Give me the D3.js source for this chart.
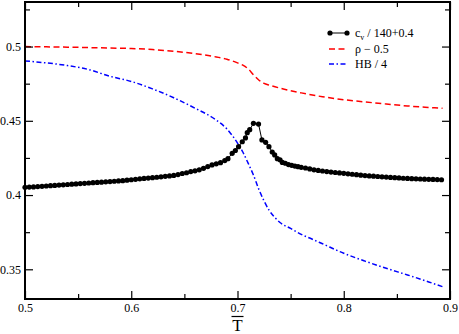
<!DOCTYPE html>
<html><head><meta charset="utf-8">
<script src="https://cdn.jsdelivr.net/npm/d3@7"></script>
<style>body{margin:0;background:#fff}svg{display:block}svg text{font-family:"Times New Roman","Liberation Serif",Times,"DejaVu Serif",serif}</style>
</head><body><svg id="c" width="459" height="334"></svg>
<script>
const cvT = [0.500,0.504,0.508,0.512,0.516,0.520,0.524,0.528,0.532,0.536,0.540,0.544,0.548,0.552,0.556,0.560,0.564,0.568,0.572,0.576,0.580,0.584,0.588,0.592,0.596,0.600,0.604,0.608,0.612,0.616,0.620,0.624,0.628,0.632,0.636,0.640,0.644,0.648,0.652,0.656,0.660,0.664,0.668,0.672,0.676,0.680,0.684,0.688,0.691,0.695,0.698,0.701,0.7045,0.7075,0.7092,0.7115,0.715,0.7198,0.723,0.7265,0.7296,0.7327,0.735,0.7375,0.740,0.7422,0.745,0.748,0.751,0.754,0.757,0.760,0.764,0.768,0.772,0.776,0.780,0.784,0.788,0.792,0.796,0.800,0.804,0.808,0.812,0.816,0.820,0.824,0.828,0.832,0.836,0.840,0.844,0.848,0.852,0.856,0.860,0.864,0.868,0.872,0.876,0.880,0.884,0.888,0.892];
const cvV = [0.4052,0.4054,0.4055,0.4057,0.4059,0.4061,0.4063,0.4065,0.4067,0.4069,0.4071,0.4073,0.4075,0.4077,0.4079,0.4081,0.4083,0.4085,0.4087,0.4089,0.4091,0.4093,0.4095,0.4097,0.4100,0.4103,0.4106,0.4109,0.4112,0.4114,0.4117,0.4120,0.4123,0.4126,0.4129,0.4132,0.4138,0.4145,0.4150,0.4158,0.4163,0.4170,0.4180,0.4192,0.4203,0.4210,0.4218,0.4232,0.4245,0.4281,0.4300,0.4326,0.4359,0.4385,0.4420,0.4440,0.4483,0.4478,0.4371,0.4355,0.4326,0.4290,0.4270,0.4245,0.4237,0.4220,0.4214,0.4205,0.4200,0.4195,0.4191,0.4187,0.4182,0.4176,0.4170,0.4166,0.4162,0.4158,0.4155,0.4152,0.4149,0.4146,0.4143,0.4140,0.4137,0.4134,0.4131,0.4129,0.4127,0.4125,0.4123,0.4121,0.4119,0.4117,0.4115,0.4113,0.4112,0.4110,0.4109,0.4108,0.4107,0.4106,0.4105,0.4104,0.4103];
const rhoT = [0.50,0.52,0.54,0.56,0.58,0.60,0.62,0.64,0.66,0.68,0.69,0.70,0.705,0.71,0.715,0.72,0.725,0.73,0.74,0.75,0.76,0.78,0.80,0.82,0.84,0.86,0.88,0.893];
const rhoV = [0.5000,0.4998,0.4996,0.4993,0.4990,0.4987,0.4980,0.4968,0.4952,0.4930,0.4915,0.4890,0.4875,0.4850,0.4810,0.4775,0.4752,0.4740,0.4720,0.4703,0.4688,0.4662,0.4642,0.4627,0.4613,0.4600,0.4590,0.4584];
const hbT = [0.50,0.52,0.54,0.56,0.58,0.60,0.62,0.64,0.66,0.68,0.69,0.70,0.705,0.71,0.715,0.72,0.725,0.73,0.735,0.74,0.75,0.76,0.77,0.78,0.80,0.82,0.84,0.86,0.88,0.893];
const hbV = [0.4903,0.4890,0.4872,0.4845,0.4800,0.4765,0.4715,0.4655,0.4585,0.4505,0.4445,0.4350,0.4290,0.4215,0.4135,0.4040,0.3960,0.3895,0.3850,0.3815,0.3775,0.3735,0.3704,0.3672,0.3608,0.3555,0.3507,0.3462,0.3415,0.3383];
const xTicks = [0.5,0.6,0.7,0.8,0.9];
const xTickLabels = ["0.5","0.6","0.7","0.8","0.9"];
const yTicks = [0.35,0.4,0.45,0.5];
const yTickLabels = ["0.35","0.4","0.45","0.5"];
const xMinor = [0.55,0.65,0.75,0.85];
const yMinor = [0.375,0.425,0.475,0.525];

const FONT = '"Times New Roman","Liberation Serif",Times,serif';
const svg = d3.select("#c");
const L=25,R=450,T=2,B=299;
const x = d3.scaleLinear().domain([0.5,0.9]).range([L,R]);
const y = d3.scaleLinear().domain([0.33,0.53]).range([B,T]);

const rhoPts = rhoT.map((t,i)=>[t,rhoV[i]]);
const hbPts = hbT.map((t,i)=>[t,hbV[i]]);
const cvPts = cvT.map((t,i)=>[t,cvV[i]]);
const line = d3.line().x(d=>x(d[0])).y(d=>y(d[1])).curve(d3.curveMonotoneX);

svg.append("path").attr("d",line(rhoPts)).attr("fill","none").attr("stroke","#ff0000").attr("stroke-width",1.5).attr("stroke-dasharray","6,3.5");
svg.append("path").attr("d",line(hbPts)).attr("fill","none").attr("stroke","#0000ff").attr("stroke-width",1.5).attr("stroke-dasharray","5,2.5,1.5,2.5");
svg.append("path").attr("d",d3.line().x(d=>x(d[0])).y(d=>y(d[1]))(cvPts)).attr("fill","none").attr("stroke","#000").attr("stroke-width",1);
svg.append("g").selectAll("circle").data(cvPts).join("circle").attr("cx",d=>x(d[0])).attr("cy",d=>y(d[1])).attr("r",2.6).attr("fill","#000");

const ax = svg.append("g");
const axB = d3.axisBottom(x).tickValues(xTicks).tickFormat((d,i)=>xTickLabels[i]).tickSize(-8).tickPadding(4);
const axBm = d3.axisBottom(x).tickValues(xMinor).tickFormat("").tickSize(-5);
const axT = d3.axisTop(x).tickValues(xTicks).tickFormat("").tickSize(-8);
const axTm = d3.axisTop(x).tickValues(xMinor).tickFormat("").tickSize(-5);
const axL = d3.axisLeft(y).tickValues(yTicks).tickFormat((d,i)=>yTickLabels[i]).tickSize(-8).tickPadding(4);
const axLm = d3.axisLeft(y).tickValues(yMinor).tickFormat("").tickSize(-5);
const axR = d3.axisRight(y).tickValues(yTicks).tickFormat("").tickSize(-8);
const axRm = d3.axisRight(y).tickValues(yMinor).tickFormat("").tickSize(-5);
[[axB,`translate(0,${B})`],[axBm,`translate(0,${B})`],[axT,`translate(0,${T})`],[axTm,`translate(0,${T})`],
 [axL,`translate(${L},0)`],[axLm,`translate(${L},0)`],[axR,`translate(${R},0)`],[axRm,`translate(${R},0)`]].forEach(([a,tr])=>{
  const g = ax.append("g").attr("transform",tr).call(a);
  g.attr("font-family",FONT).attr("font-size",12);
  g.select(".domain").remove();
  g.selectAll("line").attr("stroke","#000").attr("stroke-width",1.2);
  g.selectAll("text").attr("fill","#000");
});
svg.append("rect").attr("x",L).attr("y",T).attr("width",R-L).attr("height",B-T).attr("fill","none").attr("stroke","#000").attr("stroke-width",2);

svg.append("text").attr("x",x(0.7)).attr("y",330.5).attr("text-anchor","middle").attr("font-size",17).attr("font-family",FONT).text("T");
svg.append("line").attr("x1",x(0.7)-6).attr("x2",x(0.7)+6).attr("y1",316.5).attr("y2",316.5).attr("stroke","#000").attr("stroke-width",1.2);

const lg = svg.append("g").attr("font-family",FONT);
const lx1=329, lx2=348, tx=355;
lg.append("line").attr("x1",lx1).attr("x2",lx2).attr("y1",33).attr("y2",33).attr("stroke","#000").attr("stroke-width",1);
lg.append("circle").attr("cx",lx1+1).attr("cy",33).attr("r",2.6);
lg.append("circle").attr("cx",lx2-1).attr("cy",33).attr("r",2.6);
const t1 = lg.append("text").attr("x",tx).attr("y",37).attr("font-size",12);
t1.append("tspan").text("c");
t1.append("tspan").attr("font-size",8).attr("dy",3).text("v");
t1.append("tspan").attr("dy",-3).text(" / 140+0.4");
lg.append("line").attr("x1",lx1).attr("x2",lx2).attr("y1",49).attr("y2",49).attr("stroke","#ff0000").attr("stroke-width",1.5).attr("stroke-dasharray","6,3.5");
lg.append("text").attr("x",tx).attr("y",53).attr("font-size",12).text("ρ − 0.5");
lg.append("line").attr("x1",lx1).attr("x2",lx2).attr("y1",64).attr("y2",64).attr("stroke","#0000ff").attr("stroke-width",1.5).attr("stroke-dasharray","5,2.5,1.5,2.5");
lg.append("text").attr("x",tx).attr("y",68).attr("font-size",12).text("HB / 4");
</script></body></html>
